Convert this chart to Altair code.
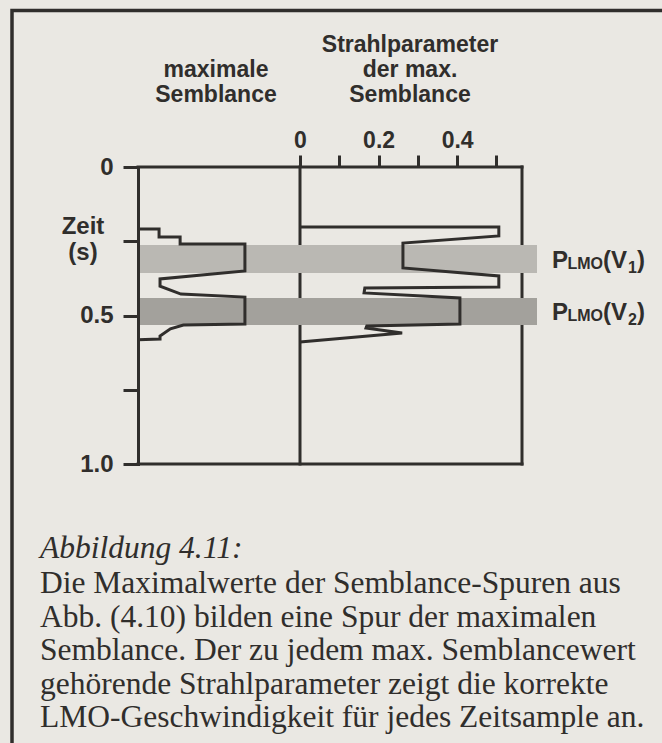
import altair as alt
import pandas as pd

INK = "#302e2c"
PAPER = "#eae8e3"
SANS = "Liberation Sans"
SERIF = "Liberation Serif"

# trace of the maximum semblance (relative amplitude) against time in s
sem_time = [0.209, 0.209, 0.236, 0.236, 0.259, 0.259, 0.350, 0.377, 0.401,
            0.428, 0.438, 0.529, 0.532, 0.545, 0.569, 0.579, 0.582]
sem_value = [0.0, 0.13, 0.13, 0.26, 0.26, 0.66, 0.66, 0.136, 0.136,
             0.265, 0.66, 0.66, 0.28, 0.20, 0.136, 0.136, 0.0]

# ray parameter belonging to the maximum semblance
ray_time = [0.202, 0.202, 0.232, 0.256, 0.340, 0.367, 0.404, 0.407, 0.424,
            0.441, 0.529, 0.535, 0.542, 0.559, 0.589]
ray_param = [0.0, 0.506, 0.506, 0.262, 0.262, 0.506, 0.506, 0.165, 0.163,
             0.407, 0.407, 0.170, 0.168, 0.260, 0.0]

# time windows of the two LMO velocities
band_start = [0.263, 0.441]
band_end = [0.357, 0.532]
band_sub = ["1", "2"]

time_ticks = [0, 0.25, 0.5, 0.75, 1.0]
ray_ticks = [0, 0.1, 0.2, 0.3, 0.4, 0.5]
ray_max = 0.565

left_title = ["maximale", "Semblance"]
right_title = ["Strahlparameter", "der max.", "Semblance"]
time_title = ["Zeit", "(s)"]
caption_head = "Abbildung 4.11:"
caption_lines = [
    "Die Maximalwerte der Semblance-Spuren aus",
    "Abb. (4.10) bilden eine Spur der maximalen",
    "Semblance. Der zu jedem max. Semblancewert",
    "gehörende Strahlparameter zeigt die korrekte",
    "LMO-Geschwindigkeit für jedes Zeitsample an.",
]

# ---- scales: one time axis, two horizontal panels -------------------------
t_scale = alt.Scale(domain=[0, 1], range=[167, 464], nice=False, zero=False)
sem_scale = alt.Scale(domain=[0, 1], range=[138, 300], nice=False, zero=False)
ray_scale = alt.Scale(domain=[0, ray_max], range=[300, 522], nice=False, zero=False)

y_axis = alt.Axis(
    orient="left", offset=-138, values=time_ticks, title=None, grid=False,
    labelExpr="datum.value == 0 ? '0' : datum.value == 0.5 ? '0.5' : datum.value == 1 ? '1.0' : ''",
    tickSize=15, tickWidth=3, tickColor=INK, domainWidth=3, domainColor=INK,
    domainCap="square", labelFont=SANS, labelFontWeight="bold", labelFontSize=24,
    labelColor=INK, labelPadding=10, labelOverlap=False, labelFlush=False,
    labelBound=False, zindex=1,
)
ray_axis = alt.Axis(
    orient="top", offset=-167, values=ray_ticks, title=None, grid=False,
    labelExpr="datum.value == 0 ? '0' : datum.value == 0.2 ? '0.2' : datum.value == 0.4 ? '0.4' : ''",
    tickSize=12, tickWidth=3, tickColor=INK, domain=False,
    labelFont=SANS, labelFontWeight="bold", labelFontSize=23, labelColor=INK,
    labelPadding=3, labelOverlap=False, labelFlush=False, labelBound=False, zindex=1,
)

def Y(field):
    return alt.Y(field, scale=t_scale, axis=y_axis)

bands_df = pd.DataFrame({"t0": band_start, "t1": band_end, "sub": band_sub})
sem_df = pd.DataFrame({"i": range(len(sem_time)), "t": sem_time, "v": sem_value})
ray_df = pd.DataFrame({"i": range(len(ray_time)), "t": ray_time, "p": ray_param})
one = pd.DataFrame({"a": [0]})

# page frame around figure and caption
page = alt.Chart(one).mark_rect(
    fillOpacity=0, stroke=INK, strokeWidth=3.5
).encode(x=alt.value(12), x2=alt.value(720), y=alt.value(10.5), y2=alt.value(800))

# panel frame: top / bottom lines and the two vertical borders of the right panel
frame_h = alt.Chart(pd.DataFrame({"t": [0, 1]})).mark_rule(
    color=INK, strokeWidth=3, strokeCap="square"
).encode(y=Y("t:Q"), x=alt.value(138), x2=alt.value(522))

frame_v = alt.Chart(pd.DataFrame({"p": [0, ray_max], "t0": [0, 0], "t1": [1, 1]})).mark_rule(
    color=INK, strokeWidth=3, strokeCap="square"
).encode(x=alt.X("p:Q", scale=ray_scale, axis=None), y=Y("t0:Q"), y2="t1:Q")

bands = alt.Chart(bands_df).mark_rect().encode(
    x=alt.value(139.5), x2=alt.value(537),
    y=Y("t0:Q"), y2="t1:Q",
    color=alt.Color("sub:N", scale=alt.Scale(domain=band_sub, range=["#bab8b3", "#a3a19c"]), legend=None),
)

sem_line = alt.Chart(sem_df).mark_line(color=INK, strokeWidth=3, strokeJoin="miter").encode(
    x=alt.X("v:Q", scale=sem_scale, axis=None), y=Y("t:Q"), order="i:Q"
)
ray_line = alt.Chart(ray_df).mark_line(color=INK, strokeWidth=3, strokeJoin="miter").encode(
    x=alt.X("p:Q", scale=ray_scale, axis=ray_axis), y=Y("t:Q"), order="i:Q"
)

# P_LMO(V_n) labels at the centre of each window
lab_base = alt.Chart(bands_df).transform_calculate(tm="(datum.t0 + datum.t1) / 2")
big = dict(font=SANS, fontWeight="bold", fontSize=24, color=INK, align="left", baseline="alphabetic")
small = dict(font=SANS, fontWeight="bold", fontSize=16, color=INK, align="left", baseline="alphabetic")
lab_p = lab_base.mark_text(dy=9, **big).encode(y=Y("tm:Q"), x=alt.value(552), text=alt.value("P"))
lab_lmo = lab_base.mark_text(dy=10, **small).encode(y=Y("tm:Q"), x=alt.value(567.5), text=alt.value("LMO"))
lab_v = lab_base.mark_text(dy=9, **big).encode(y=Y("tm:Q"), x=alt.value(603), text=alt.value("(V"))
lab_sub = lab_base.mark_text(dy=14, **small).encode(y=Y("tm:Q"), x=alt.value(628), text="sub:N")
lab_close = lab_base.mark_text(dy=9, **big).encode(y=Y("tm:Q"), x=alt.value(637), text=alt.value(")"))

def note(lines, x, y, **kw):
    # y is the centre of the first line; further lines follow below
    style = dict(font=SANS, fontWeight="bold", fontSize=23, color=INK, align="center",
                 baseline="middle", lineHeight=25)
    style.update(kw)
    return alt.Chart(one).mark_text(**style).encode(
        x=alt.value(x), y=alt.value(y), text=alt.value(lines)
    )

t_left = note(left_title, 216, 70)
t_right = note(right_title, 410, 45)
t_time = note(time_title, 83, 227, fontSize=24, lineHeight=26)
cap_head = note(caption_head, 40, 549, font=SERIF, fontWeight="normal", fontStyle="italic",
                fontSize=31.5, align="left")
cap_body = note(caption_lines, 40, 584, font=SERIF, fontWeight="normal", fontSize=31.5,
                align="left", lineHeight=33.5)

chart = alt.layer(
    page, frame_h, frame_v, bands, sem_line, ray_line,
    lab_p, lab_lmo, lab_v, lab_sub, lab_close,
    t_left, t_right, t_time, cap_head, cap_body,
).resolve_scale(x="independent").resolve_axis(x="independent").properties(
    width=662, height=743, autosize="none", padding=0, background=PAPER
).configure_view(stroke=None)

chart.save("out.html", embed_options={"renderer": "svg", "actions": False})
